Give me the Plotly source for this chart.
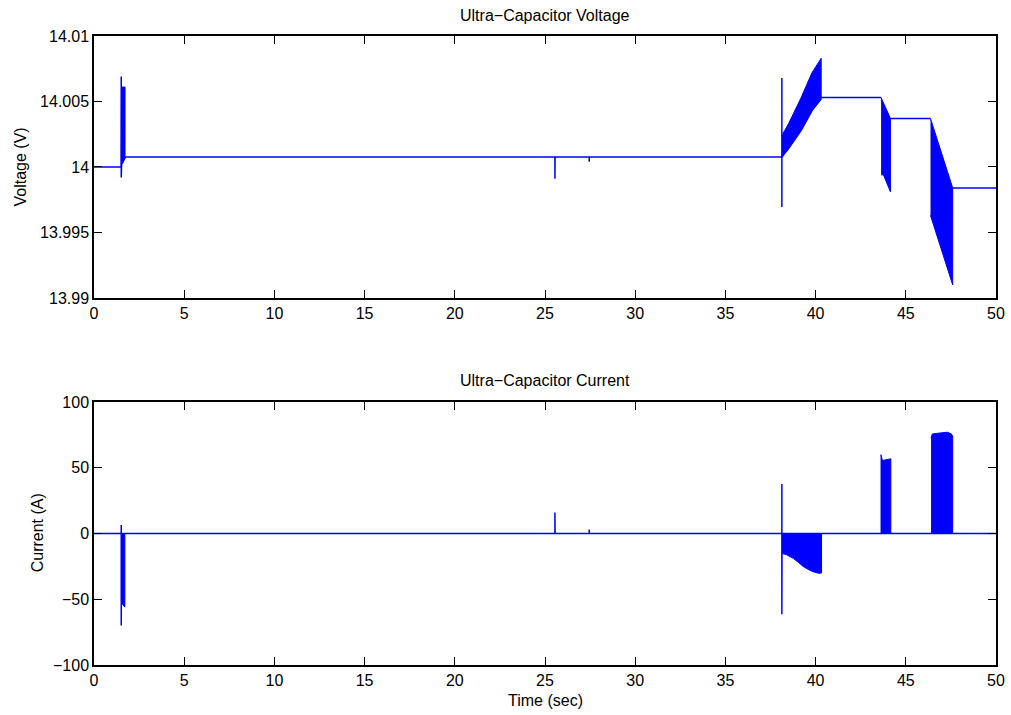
import plotly.graph_objects as go

BLUE = "#0000FF"

# ---------------- Voltage (top) ----------------
volt_t = [0, 1.50, 1.51, 1.51, 1.53, 1.72, 1.75, 25.55, 25.55, 25.56, 27.45, 27.45, 27.46,
          38.13, 38.13, 38.13, 38.13]
volt_v = [14.0, 14.0, 14.0069, 13.9992, 14.0002, 14.0007, 14.00076, 14.00076, 13.9991, 14.00076,
          14.00076, 14.0004, 14.00076, 14.00076, 14.0068, 13.99695, 14.00076]

# envelope of the fast ripple regions: (time, upper, lower)
vband0_t = [1.55, 1.72]
vband0_hi = [14.0061, 14.0061]
vband0_lo = [14.0002, 14.0007]

vbandA_t = [38.13, 38.5, 39.2, 39.8, 40.31]
vbandA_hi = [14.0024, 14.0033, 14.0053, 14.0072, 14.0083]
vbandA_lo = [14.00076, 14.0014, 14.0028, 14.0043, 14.0052]

vflat1_t = [40.31, 43.63]
vflat1_v = [14.0053, 14.0053]

vbandB_t = [43.63, 43.76, 44.15]
vbandB_hi = [14.0053, 14.0049, 14.0037]
vbandB_lo = [13.9994, 13.9994, 13.9981]

vflat2_t = [44.15, 46.37]
vflat2_v = [14.0037, 14.0037]

vbandC_t = [46.37, 47.6]
vbandC_hi = [14.0037, 13.9984]
vbandC_lo = [13.9963, 13.9910]

vflat3_t = [47.6, 50]
vflat3_v = [13.9984, 13.9984]

# ---------------- Current (bottom) ----------------
curr_t = [0, 1.51, 1.51, 1.51, 1.52, 25.55, 25.55, 25.56, 27.45, 27.45, 27.46,
          38.13, 38.13, 38.13, 38.14, 50]
curr_i = [0, 0, 6.5, -70, 0, 0, 15.9, 0, 0, 3, 0, 0, 37.7, -61.4, 0, 0]

iband0_t = [1.53, 1.71]
iband0_hi = [0, 0]
iband0_lo = [-53, -56]

ibandA_t = [38.13, 38.4, 38.76, 39.05, 39.31, 39.6, 39.87, 40.1, 40.24, 40.33]
ibandA_hi = [0, 0, 0, 0, 0, 0, 0, 0, 0, 0]
ibandA_lo = [-15.1, -16.2, -18.9, -22.0, -25.0, -27.4, -29.1, -30.0, -30.3, -30.0]

ibandB_t = [43.60, 43.63, 43.70, 44.17]
ibandB_hi = [59.8, 59.8, 55.5, 56.8]
ibandB_lo = [0, 0, 0, 0]

ibandC_t = [46.40, 46.47, 46.93, 47.30, 47.52, 47.60]
ibandC_hi = [72.6, 75.7, 76.5, 77.0, 75.8, 74.0]
ibandC_lo = [0, 0, 0, 0, 0, 0]

x_ticks = [0, 5, 10, 15, 20, 25, 30, 35, 40, 45, 50]
v_ticks = [13.99, 13.995, 14.0, 14.005, 14.01]
v_ticktext = ["13.99", "13.995", "14", "14.005", "14.01"]
i_ticks = [-100, -50, 0, 50, 100]

fig = go.Figure()


def line(x, y, xa, ya):
    fig.add_trace(go.Scatter(x=x, y=y, mode="lines", xaxis=xa, yaxis=ya,
                             line=dict(color=BLUE, width=1.5), showlegend=False,
                             hoverinfo="skip"))


def band(t, hi, lo, xa, ya):
    fig.add_trace(go.Scatter(x=list(t) + list(t)[::-1], y=list(hi) + list(lo)[::-1],
                             mode="lines", fill="toself", fillcolor=BLUE,
                             xaxis=xa, yaxis=ya, line=dict(color=BLUE, width=1),
                             showlegend=False, hoverinfo="skip"))


line(volt_t, volt_v, "x", "y")
band(vband0_t, vband0_hi, vband0_lo, "x", "y")
band(vbandA_t, vbandA_hi, vbandA_lo, "x", "y")
line(vbandA_t, vbandA_lo, "x", "y")
line(vflat1_t, vflat1_v, "x", "y")
band(vbandB_t, vbandB_hi, vbandB_lo, "x", "y")
line(vflat2_t, vflat2_v, "x", "y")
band(vbandC_t, vbandC_hi, vbandC_lo, "x", "y")
line(vflat3_t, vflat3_v, "x", "y")

line(curr_t, curr_i, "x2", "y2")
band(iband0_t, iband0_hi, iband0_lo, "x2", "y2")
band(ibandA_t, ibandA_hi, ibandA_lo, "x2", "y2")
band(ibandB_t, ibandB_hi, ibandB_lo, "x2", "y2")
band(ibandC_t, ibandC_hi, ibandC_lo, "x2", "y2")

FONT = dict(family="Liberation Sans, Arial, Helvetica, sans-serif", size=16, color="black")

axis_common = dict(showgrid=False, zeroline=False, showline=True, linecolor="black",
                   linewidth=1.5, mirror="ticks", ticks="inside", ticklen=8,
                   tickcolor="black", tickwidth=1.2, tickfont=FONT)

fig.update_layout(
    width=1011, height=715,
    margin=dict(l=94, r=15, t=36, b=50, autoexpand=False),
    paper_bgcolor="white", plot_bgcolor="white",
    font=FONT,
    xaxis=dict(domain=[0, 1], anchor="y", range=[0, 50], tickvals=x_ticks, **axis_common),
    yaxis=dict(domain=[0.5835, 1], anchor="x", range=[13.99, 14.01], tickvals=v_ticks,
               ticktext=v_ticktext, **axis_common),
    xaxis2=dict(domain=[0, 1], anchor="y2", range=[0, 50], tickvals=x_ticks, **axis_common),
    yaxis2=dict(domain=[0, 0.4181], anchor="x2", range=[-100, 100], tickvals=i_ticks,
                **axis_common),
    annotations=[
        dict(text="Ultra−Capacitor Voltage", xref="paper", yref="paper", x=0.5, y=1.0326,
             xanchor="center", yanchor="middle", showarrow=False, font=FONT),
        dict(text="Ultra−Capacitor Current", xref="paper", yref="paper", x=0.5, y=0.4531,
             xanchor="center", yanchor="middle", showarrow=False, font=FONT),
        dict(text="Time (sec)", xref="paper", yref="paper", x=0.5, y=-0.0572,
             xanchor="center", yanchor="middle", showarrow=False, font=FONT),
        dict(text="Voltage (V)", xref="paper", yref="paper", x=0, y=0.791, xshift=-74,
             xanchor="center", yanchor="middle", textangle=-90, showarrow=False, font=FONT),
        dict(text="Current (A)", xref="paper", yref="paper", x=0, y=0.2094, xshift=-57,
             xanchor="center", yanchor="middle", textangle=-90, showarrow=False, font=FONT),
    ],
)

fig.write_html("out.html")
